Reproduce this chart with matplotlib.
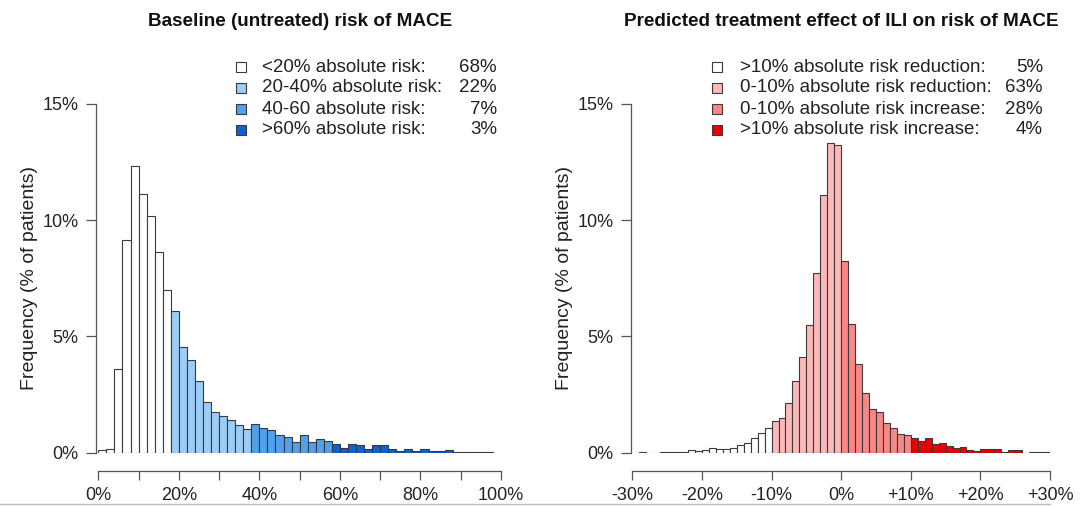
import matplotlib
matplotlib.use("Agg")
import matplotlib.pyplot as plt
from matplotlib.patches import Rectangle
from matplotlib.lines import Line2D
import numpy as np

plt.rcParams['font.family'] = ['Liberation Sans', 'DejaVu Sans']

# ---------------- data ----------------
# Left: baseline risk histogram, 2%-wide bins starting at 0%
base_bin_width = 2
base_freq = [0.10, 0.14, 3.58, 9.14, 12.35, 11.13, 10.17, 8.62, 6.99,
             6.09, 4.54, 4.00, 3.08, 2.18, 1.76, 1.58, 1.40, 1.20, 1.00,
             1.21, 1.07, 0.95, 0.77, 0.68, 0.47, 0.74, 0.47, 0.59, 0.50,
             0.37, 0.21, 0.37, 0.34, 0.17, 0.32, 0.32, 0.14, 0.06, 0.14,
             0.06, 0.14, 0.06, 0.06, 0.10, 0.01, 0.03, 0.03, 0.01, 0.01]
# colour group of each bin (0 white, 1 light, 2 medium, 3 dark)
base_group_starts = [0, 9, 19, 29]
base_colors = ['#ffffff', '#9dcdf6', '#52a0ec', '#0a62d6']
base_legend = ['<20% absolute risk:', '20-40% absolute risk:',
               '40-60 absolute risk:', '>60% absolute risk:']
base_legend_pct = ['68%', '22%', '7%', '3%']

# Right: predicted treatment effect, 1%-wide bins from -30% to +30%
eff_bin_start = -30
eff_bin_width = 1
eff_freq = [0.00, 0.04, 0.00, 0.00, 0.03, 0.03, 0.03, 0.03, 0.11, 0.07,
            0.10, 0.19, 0.17, 0.17, 0.21, 0.34, 0.43, 0.62, 0.86, 1.06,
            1.34, 1.50, 2.15, 3.08, 4.12, 5.47, 7.73, 11.07, 13.30, 13.23,
            8.23, 5.54, 3.83, 2.58, 1.86, 1.75, 1.26, 1.07, 0.79, 0.74,
            0.64, 0.50, 0.62, 0.36, 0.40, 0.29, 0.19, 0.24, 0.10, 0.06,
            0.13, 0.16, 0.13, 0.03, 0.10, 0.10, 0.00, 0.02, 0.02, 0.03]
eff_group_bounds = [-10, 0, 10]
eff_colors = ['#ffffff', '#ffb8b8', '#fb8686', '#ee0000']
eff_legend = ['>10% absolute risk reduction:', '0-10% absolute risk reduction:',
              '0-10% absolute risk increase:', '>10% absolute risk increase:']
eff_legend_pct = ['5%', '63%', '28%', '4%']

yticks = [0, 5, 10, 15]
ytick_labels = ['0%', '5%', '10%', '15%']
base_xticks = list(range(0, 101, 10))
base_xtick_labels = ['0%', '', '20%', '', '40%', '', '60%', '', '80%', '', '100%']
eff_xticks = list(range(-30, 31, 10))
eff_xtick_labels = ['-30%', '-20%', '-10%', '0%', '+10%', '+20%', '+30%']

titles = ['Baseline (untreated) risk of MACE',
          'Predicted treatment effect of ILI on risk of MACE']
ylabel = 'Frequency (% of patients)'

# ---------------- layout ----------------
W, H = 1080, 507
fig = plt.figure(figsize=(W / 100, H / 100), dpi=100)
PT = 72 / 100  # points per pixel

def ax_rect(l, r, t, b):
    return [l / W, (H - b) / H, (r - l) / W, (b - t) / H]

def fx(x):
    return x / W

def fy(y):
    return (H - y) / H

axc = '#555555'
edge = '#3a3a3a'
txtc = '#222222'

ax1 = fig.add_axes(ax_rect(95.7, 501, 104, 452.5))
ax2 = fig.add_axes(ax_rect(630.5, 1050, 104, 452.5))

# left histogram
n1 = len(base_freq)
left1 = np.arange(n1) * base_bin_width
grp1 = np.searchsorted(base_group_starts, np.arange(n1), side='right') - 1
ax1.bar(left1, base_freq, width=base_bin_width, align='edge',
        color=[base_colors[g] for g in grp1], edgecolor=edge, linewidth=0.8)
ax1.set_xlim(-0.65, 100)

# right histogram
n2 = len(eff_freq)
left2 = eff_bin_start + np.arange(n2) * eff_bin_width
grp2 = np.searchsorted(eff_group_bounds, left2, side='right')
ax2.bar(left2, eff_freq, width=eff_bin_width, align='edge',
        color=[eff_colors[g] for g in grp2], edgecolor=edge, linewidth=0.8)
ax2.set_xlim(-30.26, 30)

for ax, xt, xl, lo, hi in [(ax1, base_xticks, base_xtick_labels, 0, 100),
                           (ax2, eff_xticks, eff_xtick_labels, -30, 30)]:
    ax.set_ylim(0, 15)
    for s in ['top', 'right']:
        ax.spines[s].set_visible(False)
    ax.spines['left'].set_bounds(0, 15)
    ax.spines['bottom'].set_position(('outward', 18 * PT))
    ax.spines['bottom'].set_bounds(lo, hi)
    for s in ['left', 'bottom']:
        ax.spines[s].set_color(axc)
        ax.spines[s].set_linewidth(0.9)
    ax.set_yticks(yticks)
    ax.set_yticklabels(ytick_labels)
    ax.set_xticks(xt)
    ax.set_xticklabels(xl)
    ax.tick_params(axis='y', length=10 * PT, width=0.9, color=axc, pad=7 * PT,
                   labelsize=13, labelcolor=txtc)
    ax.tick_params(axis='x', length=9 * PT, width=0.9, color=axc, pad=7 * PT,
                   labelsize=13, labelcolor=txtc)
    ax.set_ylabel(ylabel, fontsize=14, color=txtc, labelpad=3)

# titles
fig.text(fx(300), fy(22), titles[0], ha='center', va='center',
         fontsize=13.6, fontweight='bold', color='#111111')
fig.text(fx(841), fy(22), titles[1], ha='center', va='center',
         fontsize=13.6, fontweight='bold', color='#111111')

# legends
rows_y = [67, 88, 109, 130]
def legend(sq_x, txt_x, pct_x, labels, pcts, colors):
    for y, lab, pct, c in zip(rows_y, labels, pcts, colors):
        fig.add_artist(Rectangle((fx(sq_x - 5), fy(y + 5)), 10 / W, 10 / H,
                                 transform=fig.transFigure, facecolor=c,
                                 edgecolor=edge, linewidth=0.8))
        fig.text(fx(txt_x), fy(y), lab, ha='left', va='center',
                 fontsize=13.5, color=txtc)
        fig.text(fx(pct_x), fy(y), pct, ha='right', va='center',
                 fontsize=13.5, color=txtc)

legend(241, 262, 497, base_legend, base_legend_pct, base_colors)
legend(717, 740, 1043, eff_legend, eff_legend_pct, eff_colors)

# bottom frame line
fig.add_artist(Line2D([0, fx(1050)], [fy(504), fy(504)], transform=fig.transFigure,
                      color='#bbbbbb', linewidth=1.0))

fig.savefig('out.png', dpi=100)
